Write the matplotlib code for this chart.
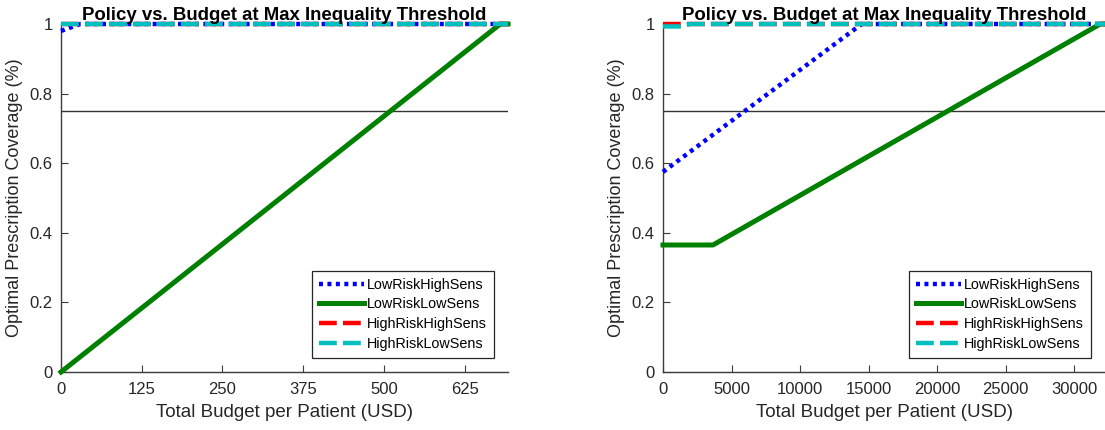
import matplotlib
matplotlib.use("Agg")
import matplotlib.pyplot as plt

plt.rcParams['font.family'] = ['Liberation Sans', 'DejaVu Sans']

TITLE = "Policy vs. Budget at Max Inequality Threshold"
XLABEL = "Total Budget per Patient (USD)"
YLABEL = "Optimal Prescription Coverage (%)"
NAMES = ["LowRiskHighSens", "LowRiskLowSens", "HighRiskHighSens", "HighRiskLowSens"]
THRESHOLD = 0.75

# left panel: small budget range
left_xlim = 692
left_xticks = [0, 125, 250, 375, 500, 625]
left_lrhs_x = [0, 30, 692]
left_lrhs_y = [0.98, 1.0, 1.0]
left_lrls_x = [0, 680, 692]
left_lrls_y = [0.0, 1.0, 1.0]
left_hrhs_x = [0, 692]
left_hrhs_y = [1.0, 1.0]
left_hrls_x = [0, 692]
left_hrls_y = [1.0, 1.0]

# right panel: large budget range
right_xlim = 32250
right_xticks = [0, 5000, 10000, 15000, 20000, 25000, 30000]
right_lrhs_x = [0, 14500, 32250]
right_lrhs_y = [0.575, 1.0, 1.0]
right_lrls_x = [0, 3650, 31900, 32250]
right_lrls_y = [0.365, 0.365, 1.0, 1.0]
right_hrhs_x = [0, 32250]
right_hrhs_y = [1.0, 1.0]
right_hrls_x = [0, 1200, 2000, 32250]
right_hrls_y = [0.993, 0.993, 1.0, 1.0]

yticks = [0, 0.2, 0.4, 0.6, 0.8, 1]
ytick_labels = ["0", "0.2", "0.4", "0.6", "0.8", "1"]

axis_col = "#3c3c3c"


def draw(ax, xlim, xticks, series):
    ax.axhline(THRESHOLD, color="#333333", lw=1.0, zorder=1)
    styles = [
        dict(color="#0000ff", lw=3.2, dashes=(0.9, 1.0), dash_capstyle="butt"),
        dict(color="#008000", lw=3.6, linestyle="-"),
        dict(color="#ff0000", lw=3.2, dashes=(4.0, 1.4)),
        dict(color="#00bfbf", lw=3.2, dashes=(4.0, 1.4)),
    ]
    for (x, y), name, st in zip(series, NAMES, styles):
        ax.plot(x, y, label=name, clip_on=False, zorder=3, **st)
    ax.set_xlim(0, xlim)
    ax.set_ylim(0, 1)
    ax.set_xticks(xticks)
    ax.set_xticklabels([str(t) for t in xticks])
    ax.set_yticks(yticks)
    ax.set_yticklabels(ytick_labels)
    for s in ["top", "right"]:
        ax.spines[s].set_visible(False)
    for s in ["left", "bottom"]:
        ax.spines[s].set_color(axis_col)
        ax.spines[s].set_linewidth(1.0)
    ax.tick_params(direction="in", length=5, width=0.8, colors=axis_col,
                   labelsize=12, labelcolor="#262626")
    ax.tick_params(axis="x", pad=7)
    ax.tick_params(axis="y", pad=6)
    ax.set_xlabel(XLABEL, fontsize=13.5, color="#262626", labelpad=5)
    ax.set_ylabel(YLABEL, fontsize=13, color="#262626", labelpad=5)
    ax.set_title(TITLE, fontsize=13.4, fontweight="bold", pad=2)
    leg = ax.legend(loc="lower right", fontsize=10.4, handlelength=3.1,
                    handletextpad=0.25, labelspacing=0.4, borderpad=0.45,
                    fancybox=False, framealpha=1, edgecolor="#262626",
                    borderaxespad=1.0)
    leg.get_frame().set_linewidth(0.9)


fig = plt.figure(figsize=(11.05, 4.3), dpi=100)
ax1 = fig.add_axes([61 / 1105, 58 / 430, (508 - 61) / 1105, 348 / 430])
ax2 = fig.add_axes([663 / 1105, 58 / 430, (1105 - 663) / 1105, 348 / 430])

draw(ax1, left_xlim, left_xticks, [
    (left_lrhs_x, left_lrhs_y),
    (left_lrls_x, left_lrls_y),
    (left_hrhs_x, left_hrhs_y),
    (left_hrls_x, left_hrls_y),
])
draw(ax2, right_xlim, right_xticks, [
    (right_lrhs_x, right_lrhs_y),
    (right_lrls_x, right_lrls_y),
    (right_hrhs_x, right_hrhs_y),
    (right_hrls_x, right_hrls_y),
])

fig.savefig("out.png", dpi=100)
